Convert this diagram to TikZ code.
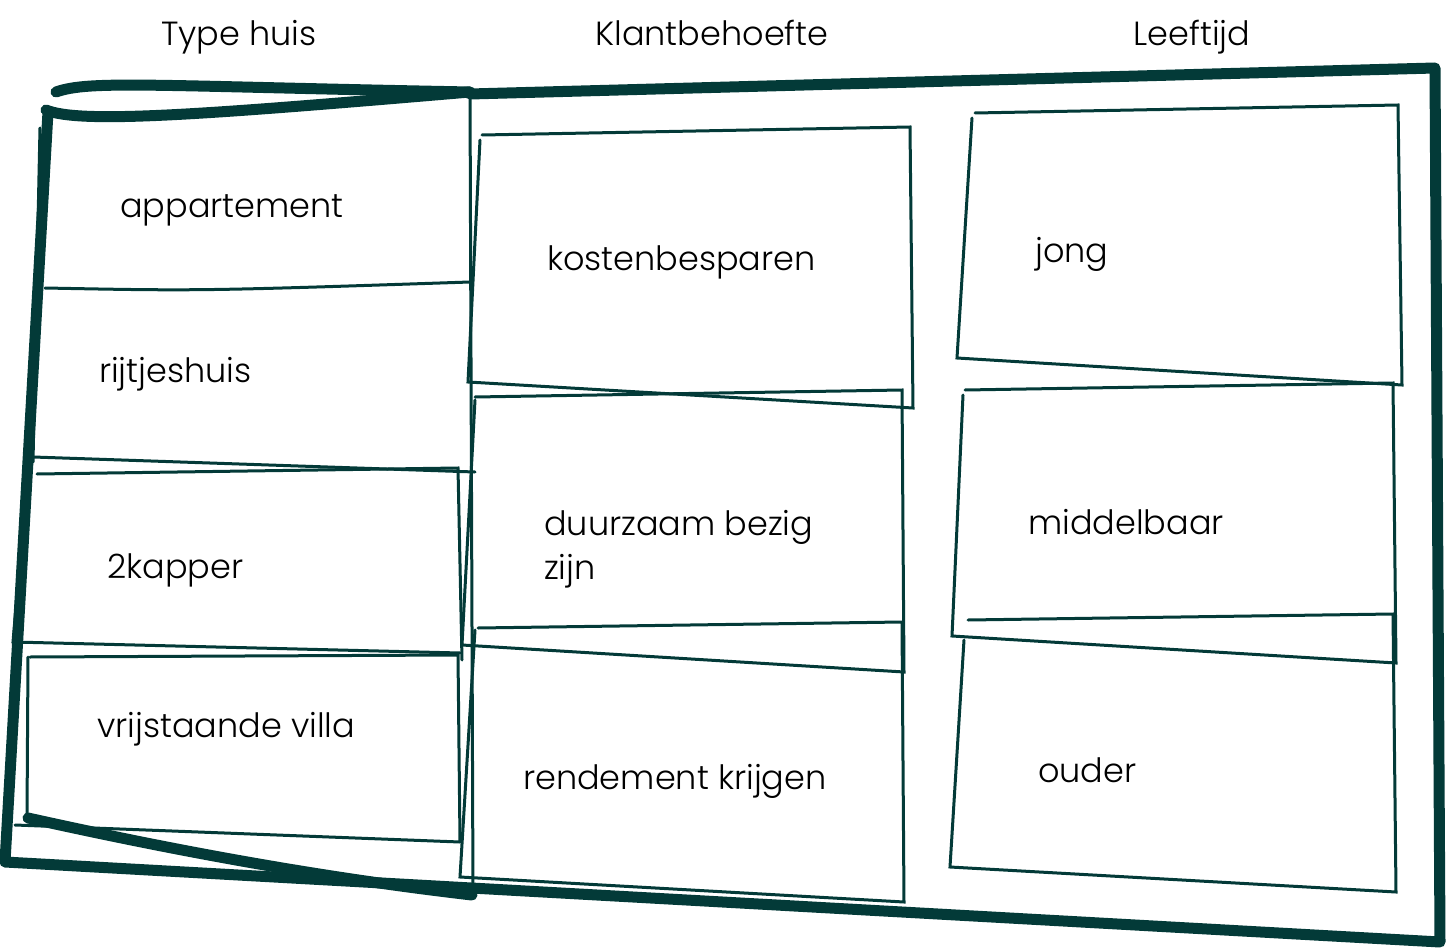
\documentclass[tikz,border=0pt]{standalone}
\usepackage{fontspec}
\setmainfont{Poppins Light}
\definecolor{ink}{HTML}{033A38}
\begin{document}
\begin{tikzpicture}[x=1pt,y=-1pt,
  heavy/.style={draw=ink,line width=11pt,line cap=round,line join=round},
  edge/.style={draw=ink,line width=3pt,line cap=round,line join=miter},
  lbl/.style={anchor=base west,inner sep=0pt,text=black,font=\fontsize{33.5}{40}\selectfont},
  hdr/.style={anchor=base,inner sep=0pt,text=black,font=\fontsize{33.5}{40}\selectfont}]
\useasboundingbox (0,0) rectangle (1446,952);

% outer frame
\draw[heavy] (48,112) -- (5,862) -- (1440,942) -- (1435,68) -- (470,94);
\draw[heavy] (56,92) .. controls (90,80) and (150,86) .. (470,92);
\draw[heavy] (46,110) .. controls (80,124) and (200,115) .. (470,92);
\draw[heavy] (28,818) .. controls (150,845) and (300,875) .. (472,895);

% left column
\draw[edge] (470,90) -- (473,897);
\draw[edge] (40,128) -- (33,462);
\draw[edge] (45,288) .. controls (200,291) .. (470,282);
\draw[edge] (33,457) -- (475,472);
\draw[edge] (37,474) -- (458,468) -- (462,660);
\draw[edge] (27,478) -- (13,642) -- (460,653);
\draw[edge] (30,657) -- (458,655) -- (460,842);
\draw[edge] (28,657) -- (27,818);
\draw[edge] (15,825) -- (460,842);

% middle column
\draw[edge] (482,135) -- (910,127) -- (913,408) -- (468,382) -- (480,140);
\draw[edge] (475,397) -- (902,390) -- (904,672) -- (462,645) -- (475,400);
\draw[edge] (478,628) -- (902,622) -- (904,902) -- (460,877) -- (475,630);

% right column
\draw[edge] (975,113) -- (1398,105) -- (1402,385) -- (957,358) -- (972,118);
\draw[edge] (965,390) -- (1393,383) -- (1396,663) -- (952,636) -- (963,395);
\draw[edge] (968,620) -- (1393,614) -- (1396,892) -- (950,867) -- (964,640);

% headers
\node[hdr] (h1) at (239,46) {Type huis};
\node[hdr] (h2) at (712,46) {Klantbehoefte};
\node[hdr] (h3) at (1192,46) {Leeftijd};

% labels
\node[lbl] (t1) at (120,218) {appartement};
\node[lbl] (t2) at (99,382) {rijtjeshuis};
\node[lbl] (t3) at (107,578) {2kapper};
\node[lbl] (t4) at (97,737) {vrijstaande villa};
\node[lbl] (k1) at (547,270) {kostenbesparen};
\node[lbl] (k2) at (544,535) {duurzaam bezig};
\node[lbl] (k2b) at (544,579) {zijn};
\node[lbl] (k3) at (523,789) {rendement krijgen};
\node[lbl] (l1) at (1035,262) {jong};
\node[lbl] (l2) at (1028,534) {middelbaar};
\node[lbl] (l3) at (1038,782) {ouder};
\end{tikzpicture}
\end{document}
